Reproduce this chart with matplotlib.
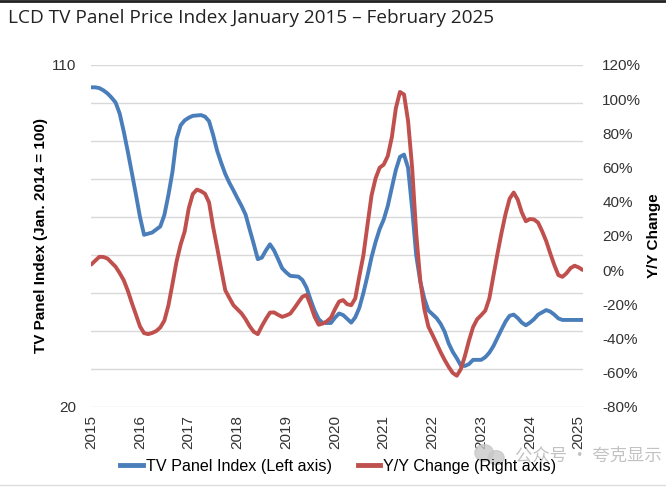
import matplotlib
matplotlib.use("Agg")
import matplotlib.pyplot as plt
from matplotlib.lines import Line2D
from matplotlib.patches import Ellipse
from matplotlib.ticker import FixedLocator, FuncFormatter

# monthly, Jan 2015 .. Feb 2025
panel_index = [
    104.1, 104.1, 103.9, 103.3, 102.5, 101.4, 100.1, 97.2, 92.5, 87.2, 81.6, 75.9,
    70.0, 65.3, 65.6, 65.9, 66.7, 67.5, 70.5, 75.8, 81.9, 90.5, 94.1, 95.4,
    96.1, 96.6, 96.7, 96.8, 96.4, 95.2, 91.6, 87.4, 84.2, 81.3, 79.0, 77.0,
    74.9, 72.9, 70.6, 66.7, 62.9, 58.9, 59.3, 61.2, 62.8, 61.2, 58.9, 56.5,
    55.4, 54.5, 54.4, 54.3, 53.4, 51.4, 48.2, 45.3, 43.1, 42.1, 42.1, 42.1,
    43.5, 44.6, 44.2, 43.2, 42.2, 43.6, 46.1, 50.0, 54.5, 59.4, 63.4, 66.8,
    69.3, 72.9, 77.7, 82.4, 85.8, 86.4, 82.9, 72.2, 59.9, 53.0, 48.5, 45.4,
    44.4, 43.4, 41.9, 39.8, 36.7, 34.5, 32.8, 30.9, 30.8, 31.3, 32.4, 32.4,
    32.4, 33.1, 34.3, 36.0, 38.2, 40.4, 42.5, 44.0, 44.3, 43.4, 42.2, 41.5,
    42.2, 43.1, 44.3, 44.9, 45.5, 45.1, 44.3, 43.3, 42.9, 42.9, 42.9, 42.9,
    42.9, 42.9,
]
yoy_change = [
    3.3, 5.6, 7.8, 7.7, 6.8, 4.4, 2.0, -1.7, -5.9, -12.0, -19.2, -26.0,
    -32.9, -36.8, -37.4, -36.7, -35.6, -33.5, -29.5, -20.6, -8.0, 5.0, 14.9, 22.6,
    36.1, 44.5, 47.1, 46.2, 44.7, 39.6, 25.3, 13.1, 0.5, -11.8, -16.2, -20.5,
    -22.9, -25.3, -28.7, -32.8, -36.0, -37.4, -32.7, -28.5, -24.8, -24.7, -26.1, -27.3,
    -26.5, -25.4, -22.2, -18.8, -15.5, -14.5, -20.5, -27.3, -31.9, -31.2, -29.9, -27.8,
    -22.8, -18.4, -17.5, -19.9, -20.5, -16.5, -3.5, 8.7, 26.4, 43.6, 53.7, 59.9,
    61.7, 66.7, 77.7, 94.8, 104.2, 102.7, 87.2, 59.8, 21.5, -6.0, -22.8, -33.0,
    -37.8, -42.8, -47.9, -52.5, -56.6, -60.1, -61.7, -57.8, -50.1, -41.1, -33.3, -28.7,
    -26.3, -23.7, -16.6, -3.4, 9.6, 21.8, 32.9, 41.8, 45.4, 41.2, 33.7, 28.6,
    29.9, 29.6, 27.8, 22.8, 17.0, 9.8, 3.0, -2.9, -3.9, -1.8, 1.2, 2.6,
    1.6, 0.1,
]
years = list(range(2015, 2026))
left_ticks = list(range(20, 111, 10))
right_ticks = list(range(-80, 121, 20))

months = [2015 + i / 12 for i in range(len(panel_index))]
blue = "#4a7ebb"
red = "#c0504d"
plt.rcParams["font.family"] = ["Liberation Sans", "DejaVu Sans"]

fig = plt.figure(figsize=(6.66, 4.88), dpi=100)
ax = fig.add_axes([0.137, 0.166, 0.738, 0.701])
ax2 = ax.twinx()

ax.plot(months, panel_index, color=blue, lw=2.8, solid_capstyle="round", zorder=3)
ax2.plot(months, yoy_change, color=red, lw=2.8, solid_capstyle="round", zorder=3)

ax.set_xlim(2015, months[-1])
ax.set_ylim(20, 110)
ax2.set_ylim(-80, 120)

ax.yaxis.set_major_locator(FixedLocator(left_ticks))
ax.yaxis.set_major_formatter(FuncFormatter(lambda v, p: f"{v:.0f}" if v in (20, 110) else ""))
ax.grid(axis="y", color="#d9d9d9", lw=1)
ax.set_axisbelow(True)
ax.set_xticks(years)
ax.set_xticklabels([str(y) for y in years], rotation=90)
ax2.set_yticks(right_ticks)
ax2.set_yticklabels([f"{t}%" for t in right_ticks])

for a in (ax, ax2):
    for s in a.spines.values():
        s.set_visible(False)
    a.tick_params(length=0, labelsize=11, colors="#333333")
ax.tick_params(axis="y", pad=11)
ax.tick_params(axis="x", pad=6)
ax2.tick_params(axis="y", pad=14)

ax.set_ylabel("TV Panel Index (Jan. 2014 = 100)", fontsize=11, fontweight="bold", labelpad=2.5)
ax2.set_ylabel("Y/Y Change", fontsize=11, fontweight="bold", labelpad=4)

fig.text(0.012, 0.963, "LCD TV Panel Price Index January 2015 \u2013 February 2025",
         fontsize=13.7, family=["Open Sans", "DejaVu Sans"], color="#222222", va="center")

handles = [Line2D([], [], color=blue, lw=3.5), Line2D([], [], color=red, lw=3.5)]
fig.legend(handles, ["TV Panel Index (Left axis)", "Y/Y Change (Right axis)"],
           loc="center", bbox_to_anchor=(0.508, 0.045), ncol=2, frameon=False,
           fontsize=11.6, handlelength=1.4, handletextpad=0.2, columnspacing=1.6)

# faint watermark
fig.add_artist(Ellipse((0.727, 0.072), 0.028, 0.034, transform=fig.transFigure,
                       color="#c8c8c8", alpha=0.8))
fig.add_artist(Ellipse((0.745, 0.062), 0.024, 0.029, transform=fig.transFigure,
                       color="#c8c8c8", alpha=0.8))
fig.text(0.773, 0.067, "\u516c\u4f17\u53f7 \u00b7 \u5938\u514b\u663e\u793a", fontsize=12.5,
         family=["Noto Sans CJK SC", "DejaVu Sans"], color="#b8b8b8", va="center", alpha=0.85)

fig.add_artist(Line2D([0, 1], [0.998, 0.998], color="#222222", lw=2, transform=fig.transFigure))
fig.add_artist(Line2D([0, 1], [0.006, 0.006], color="#dddddd", lw=1, transform=fig.transFigure))

fig.savefig("out.png", dpi=100)
